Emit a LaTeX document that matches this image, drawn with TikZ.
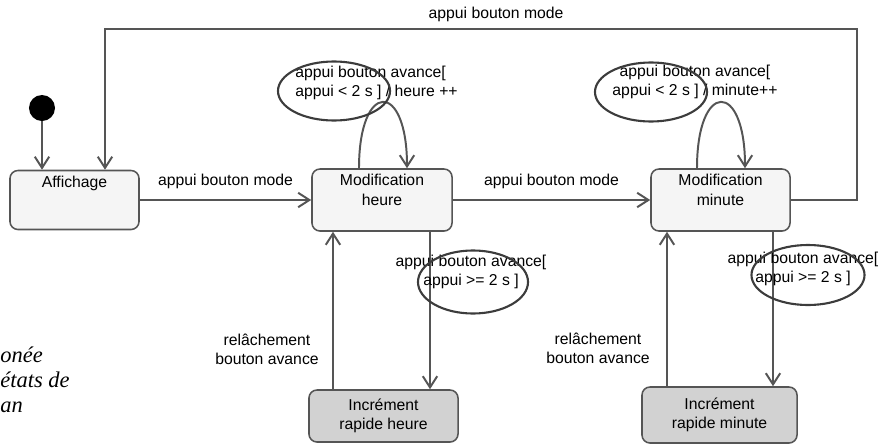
\documentclass[tikz,border=0pt]{standalone}
\usepackage{fontspec}
\setmainfont{Liberation Sans}
\newfontfamily\capfont{Liberation Serif}
\usetikzlibrary{arrows.meta,shapes.geometric,calc}

\definecolor{linegray}{HTML}{555555}
\definecolor{boxfill}{HTML}{F5F5F5}
\definecolor{fastfill}{HTML}{D2D2D2}
\definecolor{ovalgray}{HTML}{3C3C3C}

\tikzset{
  every node/.style={font=\fontsize{11.2}{13.6}\selectfont},
  initdot/.style={circle,fill=black,minimum size=0.65cm,inner sep=0pt},
  state/.style={draw=linegray,line width=1.1pt,fill=boxfill,rounded corners=0.2cm,inner sep=0pt},
  fast/.style={state,fill=fastfill,align=center},
  statename/.style={anchor=north,align=center,inner sep=0pt},
  trans/.style={draw=linegray,line width=1.4pt,-{Straight Barb[length=2.8mm,width=3.6mm]}},
  lbl/.style={inner sep=0pt,align=center},
  hilite/.style={ellipse,draw=ovalgray,line width=1.5pt,inner sep=0pt},
  capt/.style={anchor=base west,inner sep=0pt,font=\capfont\itshape\fontsize{16}{19}\selectfont}
}

\begin{document}
\begin{tikzpicture}[x=0.025cm,y=-0.025cm]
\useasboundingbox (0,0) rectangle (880,447);
% etats
\node[initdot] (init) at (42,108) {};
\node[state,minimum width=3.225cm,minimum height=1.475cm] (aff) at (74.5,200) {};
\node[statename] (aff-n) at ([yshift=-1.5mm]aff.north) {Affichage};
\node[state,minimum width=3.5cm,minimum height=1.55cm] (modh) at (382,200) {};
\node[statename] (modh-n) at ([yshift=-1.5mm]modh.north) {Modification\\heure};
\node[state,minimum width=3.475cm,minimum height=1.55cm] (modm) at (720.5,200) {};
\node[statename] (modm-n) at ([yshift=-1.5mm]modm.north) {Modification\\minute};
\node[fast,minimum width=3.725cm,minimum height=1.3cm] (incrh) at (383.5,416) {Incrément\\rapide heure};
\node[fast,minimum width=3.875cm,minimum height=1.4cm] (incrm) at (719.5,415) {Incrément\\rapide minute};
% transitions
\coordinate (tr) at (857,29);
\coordinate (tl) at (105,29);
\draw[trans] (init) -- (init |- aff.north);
\draw[trans] (aff) -- node[lbl,above=7.5pt] (e1) {appui bouton mode} (modh);
\draw[trans] (modh) -- node[lbl,above=7.5pt] (e2) {appui bouton mode} (modm);
\draw[trans] (modm.east) -| (tr) -- node[lbl,pos=0.48,above=4.7pt] (e3) {appui bouton mode} (tl) -- (tl |- aff.north);
\draw[trans] ([xshift=-0.575cm]modh.north) .. controls +(0,-88) and +(0,-88) .. ([xshift=0.625cm]modh.north);
\draw[trans] ([xshift=-0.5875cm]modm.north) .. controls +(0,-88) and +(0,-88) .. ([xshift=0.6125cm]modm.north);
\draw[trans] ([xshift=1.2cm]modh.south) -- ([xshift=1.2cm]modh.south |- incrh.north);
\draw[trans] ([xshift=-1.225cm]modh.south |- incrh.north) -- ([xshift=-1.225cm]modh.south);
\draw[trans] ([xshift=1.3125cm]modm.south) -- ([xshift=1.3125cm]modm.south |- incrm.north);
\draw[trans] ([xshift=-1.3375cm]modm.south |- incrm.north) -- ([xshift=-1.3375cm]modm.south);
% gardes
\node[lbl,align=left,anchor=north west] (gh) at (295,66) {appui bouton avance[\\appui < 2 s ] / heure ++};
\node[lbl] (gm) at (695,81.5) {appui bouton avance[\\appui < 2 s ] / minute++};
\node[lbl] (gh2) at (471,272) {appui bouton avance[\\appui >= 2 s ]};
\node[lbl] (gm2) at (803,268.5) {appui bouton avance[\\appui >= 2 s ]};
\node[lbl] (rh) at (267,349.5) {relâchement\\bouton avance};
\node[lbl] (rm) at (598,348) {relâchement\\bouton avance};
% ellipses
\node[hilite,minimum width=2.8cm,minimum height=1.475cm] (oh) at (334,91) {};
\node[hilite,minimum width=2.8cm,minimum height=1.475cm] (om) at (651,92) {};
\node[hilite,minimum width=2.75cm,minimum height=1.575cm] (oh2) at (473,282) {};
\node[hilite,minimum width=2.825cm,minimum height=1.5cm] (om2) at (808,275) {};
% legende
\node[capt] (c1) at (0,362) {onée};
\node[capt] (c2) at (0,387) {états de};
\node[capt] (c3) at (0,412) {an};
\end{tikzpicture}
\end{document}
